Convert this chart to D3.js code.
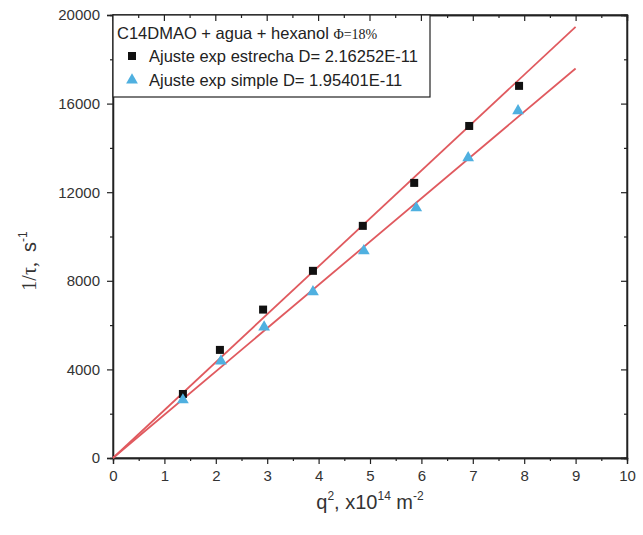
<!DOCTYPE html>
<html><head><meta charset="utf-8">
<script src="https://cdn.jsdelivr.net/npm/d3@7"></script>
<style>body{margin:0;background:#fff}svg{display:block}text{font-family:Arial,"Liberation Sans",sans-serif}</style>
</head><body>
<svg id="c" width="643" height="535"></svg>
<script>
const qEstrecha = [1.36, 2.08, 2.92, 3.89, 4.86, 5.86, 6.93, 7.90];
const rateEstrecha = [2890, 4880, 6700, 8450, 10480, 12420, 14990, 16800];
const qSimple = [1.36, 2.10, 2.94, 3.89, 4.88, 5.90, 6.91, 7.88];
const rateSimple = [2620, 4380, 5910, 7500, 9350, 11290, 13550, 15670];
const fitX = [0, 9];
const fitEstrecha = [0, 19463];
const fitSimple = [0, 17586];
const xTicks = [0,1,2,3,4,5,6,7,8,9,10];
const yTicks = [0,4000,8000,12000,16000,20000];
const legendTitle = "C14DMAO + agua + hexanol ";
const legendNames = ["Ajuste exp estrecha D= 2.16252E-11", "Ajuste exp simple D= 1.95401E-11"];

const svg = d3.select("#c");
const L=113, R=627, T=15, B=458;
const x = d3.scaleLinear().domain([0,10]).range([L,R]);
const y = d3.scaleLinear().domain([0,20000]).range([B,T]);
const ink="#222";

svg.append("rect").attr("x",L).attr("y",T).attr("width",R-L).attr("height",B-T)
  .attr("fill","none").attr("stroke",ink).attr("stroke-width",1.3);

const gx = svg.append("g").attr("transform",`translate(0,${B})`)
  .call(d3.axisBottom(x).tickValues(xTicks).tickSize(6).tickPadding(6).tickFormat(d3.format("d")));
gx.append("g").call(d3.axisBottom(x).tickValues(d3.range(0.5,10,1)).tickSize(3).tickFormat(""));
const gy = svg.append("g").attr("transform",`translate(${L},0)`)
  .call(d3.axisLeft(y).tickValues(yTicks).tickSize(6).tickPadding(7).tickFormat(d3.format("d")));
gy.append("g").call(d3.axisLeft(y).tickValues(d3.range(2000,20000,4000)).tickSize(3).tickFormat(""));
const gt = svg.append("g").attr("transform",`translate(0,${T})`)
  .call(d3.axisBottom(x).tickValues(xTicks).tickSize(6).tickFormat(""));
gt.append("g").call(d3.axisBottom(x).tickValues(d3.range(0.5,10,1)).tickSize(3).tickFormat(""));
const gr = svg.append("g").attr("transform",`translate(${R},0)`)
  .call(d3.axisLeft(y).tickValues(yTicks).tickSize(6).tickFormat(""));
gr.append("g").call(d3.axisLeft(y).tickValues(d3.range(2000,20000,4000)).tickSize(3).tickFormat(""));

svg.selectAll(".domain").attr("stroke",ink).attr("stroke-width",1.3);
svg.selectAll(".tick line").attr("stroke",ink).attr("stroke-width",1.2);
svg.selectAll(".tick text").attr("font-size",15).attr("fill","#333");

const xt = svg.append("text").attr("x",370).attr("y",509).attr("text-anchor","middle")
  .attr("font-size",20).attr("fill","#333");
xt.append("tspan").text("q");
xt.append("tspan").attr("dy",-9).attr("font-size",12).text("2");
xt.append("tspan").attr("dy",9).text(", x10");
xt.append("tspan").attr("dy",-9).attr("font-size",12).text("14");
xt.append("tspan").attr("dy",9).text(" m");
xt.append("tspan").attr("dy",-9).attr("font-size",12).text("-2");

const yt = svg.append("text").attr("transform","translate(36,261) rotate(-90)").attr("text-anchor","middle")
  .attr("font-size",20).attr("fill","#333");
yt.append("tspan").attr("font-family","Liberation Serif, serif").text("1/τ,");
yt.append("tspan").attr("dx",10).text("s");
yt.append("tspan").attr("dy",-9).attr("font-size",12).text("-1");

const line = d3.line().x((d,i)=>x(fitX[i])).y(d=>y(d));
[fitEstrecha, fitSimple].forEach(f=>{
  svg.append("path").attr("d",line(f)).attr("fill","none").attr("stroke","#e05a5f").attr("stroke-width",1.8);
});

svg.append("g").selectAll("rect").data(qEstrecha).join("rect")
  .attr("x",(d)=>x(d)-4).attr("y",(d,i)=>y(rateEstrecha[i])-4).attr("width",8).attr("height",8).attr("fill","#111");
const tri = d3.symbol().type(d3.symbolTriangle).size(60);
svg.append("g").selectAll("path").data(qSimple).join("path")
  .attr("transform",(d,i)=>`translate(${x(d)},${y(rateSimple[i])})`).attr("d",tri).attr("fill","#4fb0e0");

svg.append("rect").attr("x",L).attr("y",T).attr("width",317).attr("height",82)
  .attr("fill","#fff").attr("stroke",ink).attr("stroke-width",1.2);
svg.append("g").selectAll("line").data(d3.range(0.5,6.5,0.5)).join("line")
  .attr("x1",d=>x(d)).attr("x2",d=>x(d)).attr("y1",T).attr("y2",d=>T+(d%1===0?6:3))
  .attr("stroke",ink).attr("stroke-width",1.2);

const t0 = svg.append("text").attr("x",117).attr("y",39).attr("font-size",16.5).attr("fill","#222");
t0.append("tspan").text(legendTitle);
t0.append("tspan").attr("font-family","Liberation Serif, serif").attr("font-size",14).text("Φ=18%");
svg.append("rect").attr("x",128).attr("y",52).attr("width",8).attr("height",8).attr("fill","#111");
svg.append("path").attr("transform","translate(132,80)").attr("d",tri).attr("fill","#4fb0e0");
svg.append("text").attr("x",149).attr("y",62).attr("font-size",16.5).attr("fill","#222").text(legendNames[0]);
svg.append("text").attr("x",149).attr("y",86).attr("font-size",16.5).attr("fill","#222").text(legendNames[1]);
</script>
</body></html>
